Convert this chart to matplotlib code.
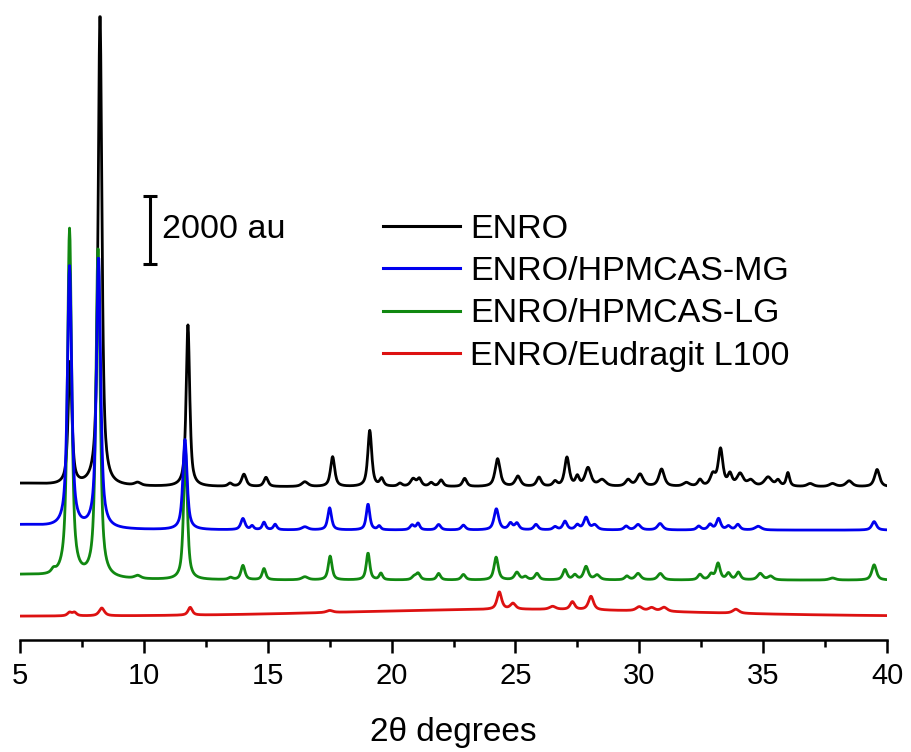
import numpy as np
import matplotlib
matplotlib.use("Agg")
import matplotlib.pyplot as plt

plt.rcParams['font.family'] = ['Liberation Sans', 'DejaVu Sans']

# ---- Diffraction data (peak position in 2θ, height in au, FWHM in degrees) ----
two_theta_min, two_theta_max = 5.0, 40.0

enro_pos = [5.0, 7.02, 8.23, 9.75, 11.78, 13.48, 14.04, 14.93, 16.5, 17.62, 19.12, 19.6,
            20.34, 20.87, 21.12, 21.6, 22.0, 22.95, 24.28, 25.1, 25.95, 26.6, 27.08, 27.5,
            27.93, 28.5, 29.55, 30.03, 30.9, 31.9, 32.45, 32.97, 33.28, 33.66, 34.07, 34.5,
            35.2, 35.6, 36.0, 36.9, 37.8, 38.47, 39.6]
enro_hgt = [100, 3600, 13950, 90, 4750, 90, 360, 270, 140, 880, 1650, 220,
            90, 220, 220, 110, 190, 240, 820, 300, 270, 140, 850, 270,
            540, 190, 190, 360, 510, 110, 190, 330, 1080, 330, 360, 170,
            270, 170, 400, 90, 90, 170, 510]
enro_fwhm = [3.0, 0.18, 0.18, 0.3, 0.17, 0.2, 0.22, 0.2, 0.3, 0.2, 0.19, 0.18,
             0.2, 0.25, 0.2, 0.2, 0.2, 0.2, 0.24, 0.25, 0.22, 0.2, 0.22, 0.18,
             0.28, 0.35, 0.25, 0.3, 0.26, 0.3, 0.2, 0.25, 0.22, 0.2, 0.3, 0.3,
             0.35, 0.2, 0.16, 0.3, 0.3, 0.3, 0.24]

mg_pos = [5.0, 7.0, 8.17, 11.66, 14.0, 14.37, 14.85, 15.3, 16.5, 17.5, 19.05, 19.5,
          20.83, 21.07, 21.9, 22.9, 24.23, 24.8, 25.06, 25.83, 26.6, 27.0, 27.5, 27.85,
          28.2, 29.47, 29.95, 30.84, 32.4, 32.86, 33.2, 33.6, 33.98, 34.8, 39.48]
mg_hgt = [150, 7680, 8000, 2650, 330, 110, 220, 160, 90, 650, 760, 110,
          140, 190, 160, 140, 620, 190, 190, 160, 90, 250, 140, 360,
          140, 110, 160, 190, 110, 160, 330, 110, 160, 110, 250]
mg_fwhm = [3.0, 0.2, 0.2, 0.2, 0.2, 0.15, 0.16, 0.16, 0.3, 0.18, 0.17, 0.15,
           0.2, 0.16, 0.2, 0.2, 0.22, 0.2, 0.2, 0.2, 0.2, 0.2, 0.2, 0.22,
           0.25, 0.2, 0.25, 0.25, 0.2, 0.2, 0.2, 0.2, 0.2, 0.3, 0.22]

lg_pos = [5.0, 6.35, 7.0, 8.15, 9.75, 11.68, 13.5, 14.0, 14.85, 16.5, 17.52, 19.05,
          19.57, 20.9, 21.07, 21.9, 22.9, 24.22, 25.06, 25.4, 25.87, 27.0, 27.4, 27.85,
          28.3, 29.5, 29.95, 30.85, 32.45, 32.9, 33.18, 33.6, 34.0, 34.88, 35.3, 37.8,
          39.48]
lg_hgt = [150, 110, 10240, 9740, 90, 3800, 60, 420, 330, 90, 700, 790,
          190, 90, 190, 190, 160, 670, 220, 90, 190, 300, 140, 390,
          140, 110, 190, 190, 160, 160, 480, 190, 220, 190, 110, 60,
          450]
lg_fwhm = [3.0, 0.2, 0.2, 0.2, 0.3, 0.18, 0.2, 0.19, 0.17, 0.3, 0.18, 0.17,
           0.16, 0.2, 0.2, 0.18, 0.2, 0.2, 0.22, 0.2, 0.2, 0.2, 0.2, 0.22,
           0.25, 0.2, 0.25, 0.25, 0.2, 0.2, 0.2, 0.2, 0.2, 0.25, 0.25, 0.3,
           0.22]

l100_pos = [7.0, 7.2, 8.3, 11.87, 17.5, 24.35, 24.9, 26.5, 27.3, 28.05, 30.0, 30.5,
            31.0, 33.9]
l100_hgt = [100, 100, 230, 230, 60, 510, 170, 90, 230, 400, 120, 100,
            120, 120]
l100_fwhm = [0.2, 0.2, 0.25, 0.2, 0.3, 0.22, 0.25, 0.3, 0.22, 0.24, 0.3, 0.3,
             0.3, 0.3]

# Amorphous halo of the Eudragit sample (centre, height, FWHM)
l100_halo = (25.0, 200, 16.0)

# Vertical stacking offsets (au)
offsets = {"ENRO": 4500, "ENRO/HPMCAS-MG": 3230,
           "ENRO/HPMCAS-LG": 1760, "ENRO/Eudragit L100": 700}
colors = {"ENRO": "#000000", "ENRO/HPMCAS-MG": "#0000ee",
          "ENRO/HPMCAS-LG": "#118811", "ENRO/Eudragit L100": "#dd1111"}

tth = np.arange(two_theta_min, two_theta_max + 1e-9, 0.02)


def pseudo_voigt(x, pos, hgt, fwhm, eta=0.75):
    y = np.zeros_like(x)
    for p, h, w in zip(pos, hgt, fwhm):
        d = (x - p) / w
        lor = 1.0 / (1.0 + 4.0 * d ** 2)
        gau = np.exp(-4.0 * np.log(2) * d ** 2)
        y += h * (eta * lor + (1 - eta) * gau)
    return y


patterns = {
    "ENRO": pseudo_voigt(tth, enro_pos, enro_hgt, enro_fwhm),
    "ENRO/HPMCAS-MG": pseudo_voigt(tth, mg_pos, mg_hgt, mg_fwhm),
    "ENRO/HPMCAS-LG": pseudo_voigt(tth, lg_pos, lg_hgt, lg_fwhm),
    "ENRO/Eudragit L100": pseudo_voigt(tth, l100_pos, l100_hgt, l100_fwhm)
    + pseudo_voigt(tth, [l100_halo[0]], [l100_halo[1]], [l100_halo[2]], eta=0.0),
}

fig = plt.figure(figsize=(9.11, 7.52), dpi=100)
ax = fig.add_axes([20 / 911, 1 - 640 / 752, 867 / 911, 640 / 752])

z = {"ENRO": 2, "ENRO/HPMCAS-LG": 3, "ENRO/HPMCAS-MG": 4, "ENRO/Eudragit L100": 5}
handles = []
for name in ["ENRO", "ENRO/HPMCAS-MG", "ENRO/HPMCAS-LG", "ENRO/Eudragit L100"]:
    (ln,) = ax.plot(tth, patterns[name] + offsets[name], color=colors[name],
                    lw=2.0, zorder=z[name], label=name)
    handles.append(ln)

ax.set_xlim(two_theta_min, two_theta_max)
ax.set_ylim(0, 18816)

for s in ["left", "right", "top"]:
    ax.spines[s].set_visible(False)
ax.spines["bottom"].set_linewidth(1.8)
ax.set_yticks([])
ax.set_xticks(np.arange(5, 41, 5))
ax.set_xticks(np.arange(7.5, 40, 5), minor=True)
ax.tick_params(axis="x", which="major", direction="out", length=9.5, width=1.8,
               labelsize=21, pad=6)
ax.tick_params(axis="x", which="minor", direction="out", length=5, width=1.8)
ax.set_xlabel("2θ degrees", fontsize=24, labelpad=20)

# Intensity scale bar
bar_x, bar_y0, bar_len = 10.25, 11054, 2000
ax.errorbar([bar_x], [bar_y0 + bar_len / 2], yerr=[[bar_len / 2], [bar_len / 2]],
            fmt="none", ecolor="black", elinewidth=2.2, capsize=5, capthick=2.2)
ax.text(10.72, bar_y0 + bar_len / 2, "2000 au", fontsize=24.5, va="center", ha="left")

leg = ax.legend(handles=handles, loc="upper left", frameon=False,
                bbox_to_anchor=(383 / 911, 1 - 214 / 752),
                bbox_transform=fig.transFigure, fontsize=24.5,
                handlelength=2.27, handletextpad=0.3, labelspacing=0.33,
                borderpad=0, borderaxespad=0)
for lh in leg.get_lines():
    lh.set_linewidth(2.2)

fig.savefig("out.png", dpi=100)
